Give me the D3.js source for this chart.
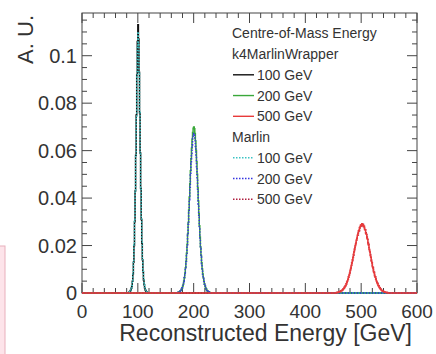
<!DOCTYPE html>
<html><head><meta charset="utf-8">
<script src="https://cdn.jsdelivr.net/npm/d3@7"></script>
<style>html,body{margin:0;padding:0;background:#fff;}svg{display:block;}</style>
</head><body>
<svg id="c" width="436" height="354"></svg>
<script>
// ---- data (1 GeV bins, value per bin starting at "start") ----
const xTicks = [0, 100, 200, 300, 400, 500, 600];
const xTickLabels = ["0", "100", "200", "300", "400", "500", "600"];
const yTicks = [0, 0.02, 0.04, 0.06, 0.08, 0.1];
const yTickLabels = ["0", "0.02", "0.04", "0.06", "0.08", "0.1"];
const legendTitle = "Centre-of-Mass Energy";
const groupNames = ["k4MarlinWrapper", "Marlin"];
const energyLabels = ["100 GeV", "200 GeV", "500 GeV"];

const k4_100_start = 84;
const k4_100 = [0.0003,0.0005,0.0008,0.0012,0.002,0.003,0.005,0.008,0.013,0.020,0.030,0.043,0.058,0.075,0.092,0.106,0.113,0.107,0.093,0.076,0.059,0.044,0.031,0.021,0.014,0.009,0.0055,0.0035,0.0022,0.0013,0.0008,0.0005,0.0003];
const k4_200_start = 172;
const k4_200 = [0.0003,0.0004,0.0005,0.0007,0.0009,0.0012,0.0016,0.0021,0.0028,0.0037,0.0049,0.0064,0.0083,0.0106,0.0134,0.0167,0.0205,0.0249,0.0297,0.035,0.0405,0.046,0.0515,0.0566,0.061,0.0648,0.0676,0.0694,0.070,0.0692,0.0672,0.0641,0.0601,0.0553,0.0500,0.0444,0.0388,0.0334,0.0283,0.0236,0.0194,0.0158,0.0127,0.0101,0.008,0.0063,0.0049,0.0038,0.0029,0.0022,0.0017,0.0013,0.001,0.0007,0.0005,0.0004,0.0003];
const k4_500_start = 456;
const k4_500 = [0.0002,0.0002,0.0003,0.0003,0.0004,0.0005,0.0006,0.0008,0.0009,0.0011,0.0013,0.0015,0.0018,0.0021,0.0024,0.0029,0.0033,0.0039,0.0045,0.0051,0.0058,0.0066,0.0075,0.0083,0.0095,0.0103,0.0116,0.0126,0.0140,0.0149,0.0163,0.0175,0.0186,0.0199,0.0208,0.0222,0.0230,0.0243,0.0251,0.0262,0.0266,0.0276,0.0280,0.0287,0.0284,0.0292,0.0286,0.0288,0.0279,0.0281,0.0268,0.0266,0.0251,0.0248,0.0232,0.0226,0.0208,0.0201,0.0184,0.0176,0.0158,0.0150,0.0134,0.0126,0.0111,0.0103,0.0090,0.0084,0.0072,0.0066,0.0057,0.0051,0.0043,0.0039,0.0033,0.0029,0.0024,0.0021,0.0017,0.0015,0.0012,0.0010,0.0008,0.0007,0.0006,0.0005,0.0004,0.0003,0.0003,0.0002,0.0002];
const marlin_100_start = 84;
const marlin_100 = [0.0003,0.0005,0.0009,0.0013,0.0021,0.0032,0.0052,0.0083,0.0132,0.0203,0.0302,0.0432,0.0578,0.0745,0.0910,0.1042,0.1100,0.1055,0.0925,0.0762,0.0594,0.0445,0.0316,0.0214,0.0143,0.0092,0.0057,0.0036,0.0023,0.0014,0.0009,0.0005,0.0003];
const marlin_200_start = 172;
const marlin_200 = [0.0003,0.0004,0.0006,0.0007,0.0010,0.0013,0.0017,0.0022,0.0029,0.0038,0.0050,0.0065,0.0084,0.0107,0.0133,0.0166,0.0202,0.0244,0.0290,0.0341,0.0393,0.0446,0.0498,0.0546,0.0588,0.0624,0.0651,0.0667,0.0672,0.0665,0.0646,0.0617,0.0578,0.0532,0.0481,0.0428,0.0374,0.0322,0.0273,0.0228,0.0188,0.0153,0.0123,0.0098,0.0078,0.0061,0.0048,0.0037,0.0029,0.0022,0.0017,0.0013,0.0010,0.0007,0.0005,0.0004,0.0003];
const marlin_500_start = 456;
const marlin_500 = [0.0002,0.0002,0.0003,0.0004,0.0004,0.0005,0.0006,0.0007,0.0009,0.0011,0.0012,0.0015,0.0017,0.0020,0.0025,0.0028,0.0034,0.0038,0.0044,0.0052,0.0057,0.0067,0.0073,0.0085,0.0092,0.0105,0.0113,0.0128,0.0136,0.0151,0.0159,0.0176,0.0183,0.0198,0.0204,0.0219,0.0226,0.0240,0.0244,0.0259,0.0261,0.0274,0.0275,0.0285,0.0281,0.0289,0.0284,0.0290,0.0280,0.0283,0.0270,0.0270,0.0254,0.0252,0.0236,0.0230,0.0213,0.0205,0.0188,0.0180,0.0162,0.0154,0.0138,0.0129,0.0115,0.0107,0.0094,0.0087,0.0075,0.0069,0.0059,0.0053,0.0045,0.0041,0.0034,0.0031,0.0025,0.0022,0.0018,0.0016,0.0013,0.0011,0.0009,0.0008,0.0006,0.0005,0.0004,0.0004,0.0003,0.0002,0.0002];

// ---- build series ----
const series = [
  {start:k4_100_start, vals:k4_100, color:"#111111", dash:null},
  {start:k4_200_start, vals:k4_200, color:"#3aa83a", dash:null},
  {start:k4_500_start, vals:k4_500, color:"#e83a3a", dash:null},
  {start:marlin_100_start, vals:marlin_100, color:"#3cc4c4", dash:"1.5,1.5"},
  {start:marlin_200_start, vals:marlin_200, color:"#3535e0", dash:"1.5,1.5"},
  {start:marlin_500_start, vals:marlin_500, color:"#b02040", dash:"1.5,1.5"}
];
const drawOrder = [0, 1, 3, 4, 5, 2];

const svg = d3.select("#c");
const font = "'Liberation Sans', Arial, Helvetica, sans-serif";
const L = 82, R = 417, T = 13, B = 293;
const x = d3.scaleLinear().domain([0, 600]).range([L, R]);
const y = d3.scaleLinear().domain([0, 0.118]).range([B, T]);

// neighbour artifact at left edge
svg.append("rect").attr("x", -2).attr("y", 246).attr("width", 7).attr("height", 112)
  .attr("fill", "#fde4ea").attr("stroke", "#e8b0bc").attr("stroke-width", 1);

// frame
const axisColor = "#444";
svg.append("rect").attr("x", L).attr("y", T).attr("width", R - L).attr("height", B - T)
  .attr("fill", "none").attr("stroke", axisColor).attr("stroke-width", 1);

// ticks
const g = svg.append("g").attr("stroke", axisColor).attr("stroke-width", 1);
const xMinor = d3.range(0, 601, 20);
xMinor.forEach(v => {
  const major = v % 100 === 0;
  const len = major ? 10 : 5;
  g.append("line").attr("x1", x(v)).attr("x2", x(v)).attr("y1", B).attr("y2", B - len);
  g.append("line").attr("x1", x(v)).attr("x2", x(v)).attr("y1", T).attr("y2", T + len);
});
const yMinor = d3.range(0, 0.1181, 0.005);
yMinor.forEach((v, i) => {
  const major = i % 4 === 0;
  const len = major ? 10 : 5;
  g.append("line").attr("x1", L).attr("x2", L + len).attr("y1", y(v)).attr("y2", y(v));
  g.append("line").attr("x1", R).attr("x2", R - len).attr("y1", y(v)).attr("y2", y(v));
});

// histograms
const line = d3.line().x(d => x(d[0])).y(d => y(d[1])).curve(d3.curveStepAfter);
drawOrder.forEach(idx => {
  const s = series[idx];
  const pts = [];
  for (let i = 0; i < 600; i++) {
    const k = i - s.start;
    pts.push([i, (k >= 0 && k < s.vals.length) ? s.vals[k] : 0]);
  }
  pts.push([600, 0]);
  const p = svg.append("path").attr("d", line(pts)).attr("fill", "none")
    .attr("stroke", s.color).attr("stroke-width", 1.5);
  if (s.dash) p.attr("stroke-dasharray", s.dash);
});

// tick labels
const txtColor = "#333";
xTicks.forEach((v, i) => {
  svg.append("text").attr("x", x(v)).attr("y", 318).attr("text-anchor", "middle")
    .attr("font-family", font).attr("font-size", 19).attr("fill", txtColor).text(xTickLabels[i]);
});
yTicks.forEach((v, i) => {
  svg.append("text").attr("x", 77).attr("y", y(v) + 7).attr("text-anchor", "end")
    .attr("font-family", font).attr("font-size", 20).attr("fill", txtColor).text(yTickLabels[i]);
});

// axis titles
svg.append("text").attr("x", 412).attr("y", 341).attr("text-anchor", "end")
  .attr("font-family", font).attr("font-size", 23).attr("fill", txtColor).text("Reconstructed Energy [GeV]");
svg.append("text").attr("transform", "translate(33,15) rotate(-90)").attr("text-anchor", "end")
  .attr("font-family", font).attr("font-size", 22).attr("fill", txtColor).text("A. U.");

// legend
const lx = 232, ly0 = 33.3, dy = 20.75, lf = 14;
function legText(row, tx, s) {
  svg.append("text").attr("x", tx).attr("y", ly0 + row * dy + 5).attr("font-family", font)
    .attr("font-size", lf).attr("fill", txtColor).text(s);
}
legText(0, lx, legendTitle);
let row = 1;
groupNames.forEach((gname, gi) => {
  legText(row, lx, gname); row++;
  energyLabels.forEach((lab, ei) => {
    const s = series[gi * 3 + ei];
    const yy = ly0 + row * dy;
    const ln = svg.append("line").attr("x1", lx + 1).attr("x2", lx + 22).attr("y1", yy).attr("y2", yy)
      .attr("stroke", s.color).attr("stroke-width", 1.4);
    if (s.dash) ln.attr("stroke-dasharray", s.dash);
    legText(row, lx + 25, lab); row++;
  });
});
</script>
</body></html>
